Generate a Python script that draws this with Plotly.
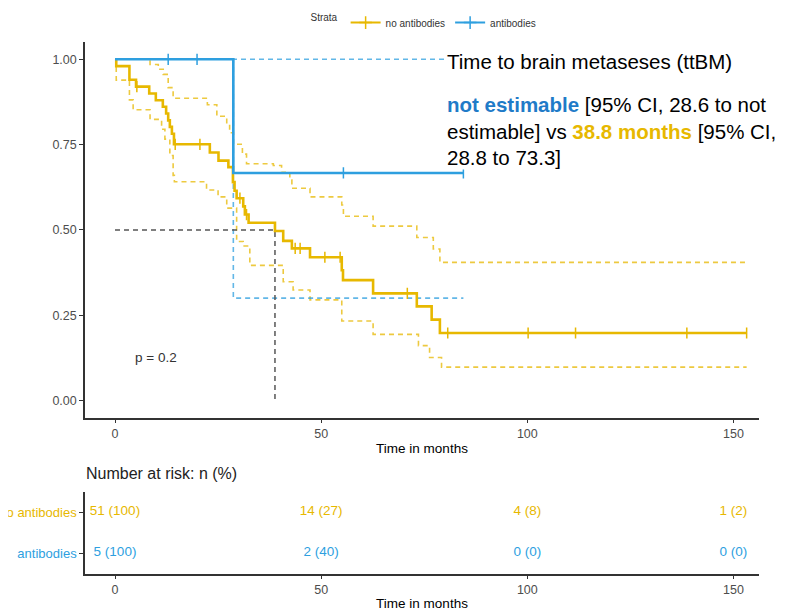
"""
Kaplan-Meier plot of time to brain metastases (ttBM), split by antibody
status, with the number-at-risk table underneath.
"""
import numpy as np
import plotly.graph_objects as go

# ---- data ----
# no antibodies: step times (months) and survival after each drop
yel_time = [0, 0.3, 3.5, 5.1, 8.3, 9.9, 11.6, 12.4, 12.9, 13.3, 13.8, 14.3,
            23.0, 25.1, 27.5, 28.6, 29.0, 29.5, 31.1, 31.5, 32.4, 38.8, 40.8,
            42.9, 47.3, 55.0, 55.3, 62.6, 73.2, 76.8, 78.8]
yel_surv = [1.0, 0.980, 0.940, 0.920, 0.900, 0.880, 0.861, 0.841, 0.821,
            0.802, 0.782, 0.751, 0.727, 0.703, 0.684, 0.640, 0.615, 0.593,
            0.569, 0.545, 0.521, 0.497, 0.468, 0.446, 0.420, 0.382, 0.353,
            0.314, 0.276, 0.237, 0.198]
yel_end = 153.2
yel_censor = [5.3, 14.6, 20.6, 30.3, 31.9, 43.7, 44.9, 50.9, 54.6, 70.9,
              80.7, 100.2, 111.7, 138.7, 153.2]

# 95% CI, no antibodies
yel_up_time = [0, 8.5, 10.5, 11.7, 12.9, 14.1, 22.4, 24.7, 27.1, 27.8, 28.7,
               30.9, 31.9, 38.4, 40.4, 42.4, 42.9, 47.3, 55.0, 55.4, 62.6,
               73.2, 77.2, 78.8]
yel_up = [1.0, 0.985, 0.971, 0.956, 0.917, 0.886, 0.867, 0.833, 0.810, 0.785,
          0.751, 0.722, 0.694, 0.689, 0.669, 0.646, 0.622, 0.597, 0.573,
          0.540, 0.511, 0.478, 0.444, 0.405]
yel_lo_time = [0, 0.3, 3.5, 4.4, 8.5, 11.3, 12.1, 13.3, 14.1, 14.4, 22.2,
               25.0, 27.1, 29.5, 31.1, 32.7, 40.8, 43.2, 47.3, 55.0, 62.6,
               73.6, 76.3, 79.2]
yel_lo = [1.0, 0.939, 0.881, 0.852, 0.824, 0.795, 0.766, 0.718, 0.660, 0.641,
          0.617, 0.597, 0.564, 0.466, 0.453, 0.396, 0.348, 0.324, 0.295,
          0.233, 0.194, 0.161, 0.126, 0.098]

# antibodies
blu_time = [0, 28.7]
blu_surv = [1.0, 0.667]
blu_up = [1.0, 1.0]
blu_lo = [1.0, 0.30]
blu_end = 84.5
blu_censor = [12.9, 19.9, 55.4, 84.5]

median_time = 38.8

# number at risk table
risk_times = [0, 50, 100, 150]
risk_groups = ["antibodies", "no antibodies"]
risk_no_ab = ["51 (100)", "14 (27)", "4 (8)", "1 (2)"]
risk_ab = ["5 (100)", "2 (40)", "0 (0)", "0 (0)"]

YEL = "#E7B800"
BLU = "#2E9FDF"
FONT = "Liberation Sans, Arial, sans-serif"
# the page body adds an 8px offset, so the figure is drawn 8px smaller
OFF = 8
W, H = 790 - OFF, 611 - OFF


def step_xy(times, vals, end):
    # hv-shaped path running on to the last follow-up time
    return list(times) + [end], list(vals) + [vals[-1]]


def value_at(times, vals, t):
    i = np.searchsorted(times, t, side="right") - 1
    return vals[i]


def px_x(p):
    return (p - OFF) / W


def px_y(p):
    return 1 - (p - OFF) / H


fig = go.Figure()

# confidence bands (dashed)
for t, v, end, col in [
    (yel_up_time, yel_up, yel_end, YEL),
    (yel_lo_time, yel_lo, yel_end, YEL),
    (blu_time, blu_up, blu_end, BLU),
    (blu_time, blu_lo, blu_end, BLU),
]:
    x, y = step_xy(t, v, end)
    fig.add_trace(go.Scatter(
        x=x, y=y, mode="lines", line_shape="hv",
        line=dict(color=col, width=1.6, dash="5px,4px"),
        opacity=0.75, showlegend=False, hoverinfo="skip"
    ))

# median line
fig.add_trace(go.Scatter(
    x=[0, median_time, median_time], y=[0.5, 0.5, 0],
    mode="lines", line=dict(color="#555555", width=1.5, dash="5px,4px"),
    showlegend=False, hoverinfo="skip"
))

# survival curves + censor marks
for t, v, end, cens, col in [
    (yel_time, yel_surv, yel_end, yel_censor, YEL),
    (blu_time, blu_surv, blu_end, blu_censor, BLU),
]:
    x, y = step_xy(t, v, end)
    fig.add_trace(go.Scatter(
        x=x, y=y, mode="lines", line_shape="hv",
        line=dict(color=col, width=2.6), showlegend=False
    ))
    fig.add_trace(go.Scatter(
        x=cens, y=[value_at(t, v, c) for c in cens], mode="markers",
        marker=dict(symbol="line-ns", size=8,
                    line=dict(color=col, width=1.5)),
        showlegend=False, hoverinfo="skip"
    ))

# legend-only entries
for name, col in [("no antibodies", YEL), ("antibodies", BLU)]:
    fig.add_trace(go.Scatter(
        x=[None], y=[None], mode="lines+markers", name=name,
        line=dict(color=col, width=2),
        marker=dict(symbol="cross-thin", size=9,
                    line=dict(color=col, width=1.5))
    ))

# number at risk table
for grp, labels, col in [("no antibodies", risk_no_ab, YEL),
                         ("antibodies", risk_ab, BLU)]:
    fig.add_trace(go.Scatter(
        x=risk_times, y=[grp] * len(risk_times), mode="text",
        text=labels, textfont=dict(color=col, size=13.5, family=FONT),
        xaxis="x2", yaxis="y2", showlegend=False, hoverinfo="skip"
    ))

x_dom = [px_x(85), px_x(759)]
x_rng = [(85 - 115) / 4.123, (759 - 115) / 4.123]
axis_common = dict(
    showline=True, linecolor="#333333", linewidth=1.5, mirror=False,
    ticks="outside", ticklen=4, tickcolor="#333333", tickwidth=1.2,
    showgrid=False, zeroline=False,
    tickfont=dict(size=12.5, color="#4D4D4D", family=FONT),
)

fig.update_layout(
    width=W, height=H,
    margin=dict(l=0, r=0, t=0, b=0),
    plot_bgcolor="white", paper_bgcolor="white",
    font=dict(family=FONT, color="black"),
    xaxis=dict(domain=x_dom, range=x_rng, anchor="y",
               tickvals=[0, 50, 100, 150],
               title=dict(text="Time in months", standoff=3,
                          font=dict(size=13.5, color="black")),
               **axis_common),
    yaxis=dict(domain=[px_y(415), px_y(34.6)],
               range=[-0.05, 1.05], anchor="x",
               tickvals=[0, 0.25, 0.5, 0.75, 1.0],
               ticktext=["0.00", "0.25", "0.50", "0.75", "1.00"],
               **axis_common),
    xaxis2=dict(domain=x_dom, range=x_rng, anchor="y2",
                tickvals=[0, 50, 100, 150],
                title=dict(text="Time in months", standoff=3,
                           font=dict(size=13.5, color="black")),
                **axis_common),
    yaxis2=dict(domain=[px_y(573), px_y(490)], anchor="x2",
                type="category", categoryarray=risk_groups,
                range=[-0.5, 1.5], automargin=False,
                tickvals=risk_groups,
                ticktext=["<span style='color:%s'>antibodies</span>" % BLU,
                          "<span style='color:%s'>no antibodies</span>" % YEL],
                **{**axis_common,
                   "tickfont": dict(size=13, family=FONT)}),
    legend=dict(orientation="h", x=px_x(425), xanchor="center",
                y=px_y(0), yanchor="top",
                title=dict(text="Strata", side="left",
                           font=dict(size=10, color="#333333")),
                font=dict(size=10, color="#333333"),
                itemwidth=30, tracegroupgap=0),
)

# text block in the upper right
text_lines = [
    "Time to brain metaseses (ttBM)",
    "<b><span style='color:#1F7BC8'>not estimable</span></b> [95% CI, 28.6 to not",
    "estimable] vs <b><span style='color:#E7B800'>38.8 months</span></b> [95% CI,",
    "28.8 to 73.3]",
]
for line, yc in zip(text_lines, [54, 98, 125, 151]):
    fig.add_annotation(
        x=px_x(446), y=px_y(yc), xref="paper", yref="paper",
        xanchor="left", yanchor="middle", showarrow=False, text=line,
        font=dict(size=20.5, color="black", family=FONT),
        bgcolor="white", borderpad=0
    )

fig.add_annotation(
    x=10.0, y=0.127, xref="x", yref="y", showarrow=False, text="p = 0.2",
    font=dict(size=13.5, color="#333333", family=FONT)
)
fig.add_annotation(
    x=px_x(84), y=px_y(472), xref="paper", yref="paper",
    xanchor="left", yanchor="middle", showarrow=False,
    text="Number at risk: n (%)",
    font=dict(size=16, color="#222222", family=FONT)
)

fig.write_html("out.html")
